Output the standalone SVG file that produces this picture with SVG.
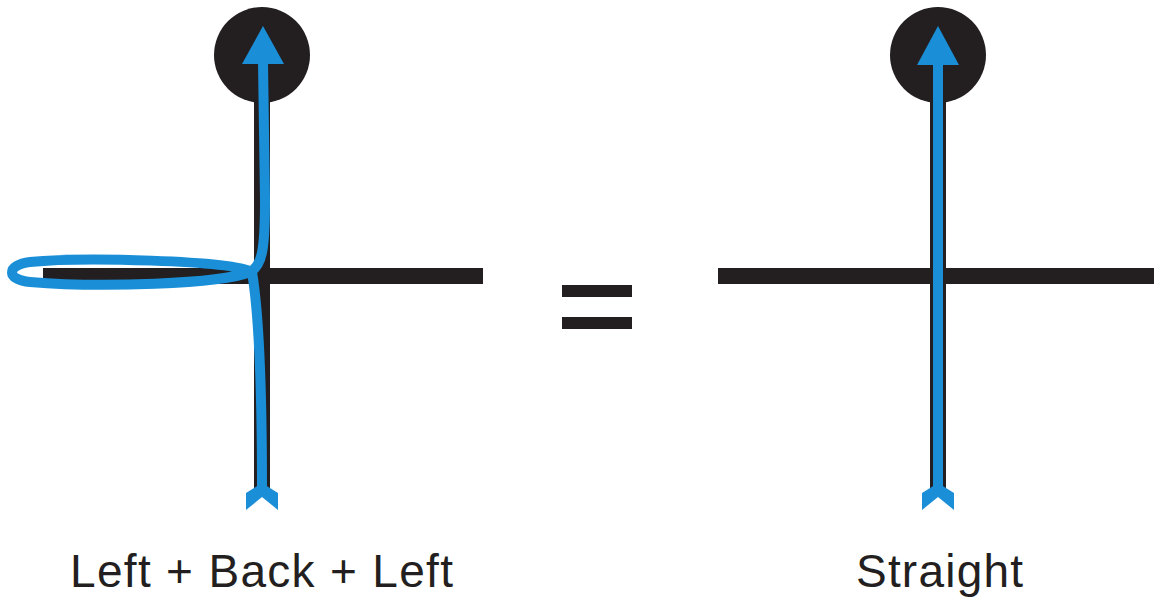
<svg xmlns="http://www.w3.org/2000/svg" width="1154" height="602" viewBox="0 0 1154 602">
<style>
.road{stroke:#231f20;stroke-width:16;fill:none;stroke-linecap:butt}
.dot{fill:#231f20}
.path{stroke:#1a8fd8;stroke-width:10;fill:none;stroke-linecap:butt;stroke-linejoin:round}
.head{fill:#1a8fd8}
.eq{fill:#231f20}
.lbl{font-family:"Liberation Sans",Arial,sans-serif;font-size:46px;fill:#231f20}
</style>
<rect width="1154" height="602" fill="#ffffff"/>
<g id="left-junction">
<circle class="dot" cx="262" cy="55" r="48"/>
<line class="road" x1="262" y1="95" x2="262" y2="492"/>
<line class="road" x1="43" y1="276" x2="483" y2="276"/>
</g>
<g id="right-junction">
<circle class="dot" cx="938" cy="55" r="48"/>
<line class="road" x1="938" y1="95" x2="938" y2="492"/>
<line class="road" x1="718" y1="276" x2="1154" y2="276"/>
</g>
<g id="equals">
<rect class="eq" x="562" y="285" width="70" height="12"/>
<rect class="eq" x="562" y="317" width="70" height="12"/>
</g>
<g id="connectors">
<path class="path" d="M262 490 C262 400 260 320 252 272 C230 260 80 257 30 262 C6 265 6 280 30 282 C100 288 220 284 250 272 C262 266 265 250 265 200 L263 62"/>
<polygon class="head" points="263,26 242,64 284,64"/>
<polygon class="head" points="246,510 246,493 262,483 278,493 278,510 262,497"/>
<line class="path" x1="938" y1="490" x2="938" y2="62"/>
<polygon class="head" points="938,26 917,65 959,65"/>
<polygon class="head" points="922,510 922,493 938,483 954,493 954,510 938,497"/>
</g>
<g id="labels">
<text class="lbl" x="70" y="587" textLength="383" lengthAdjust="spacing">Left + Back + Left</text>
<text class="lbl" x="856" y="587" textLength="167" lengthAdjust="spacing">Straight</text>
</g>
</svg>
